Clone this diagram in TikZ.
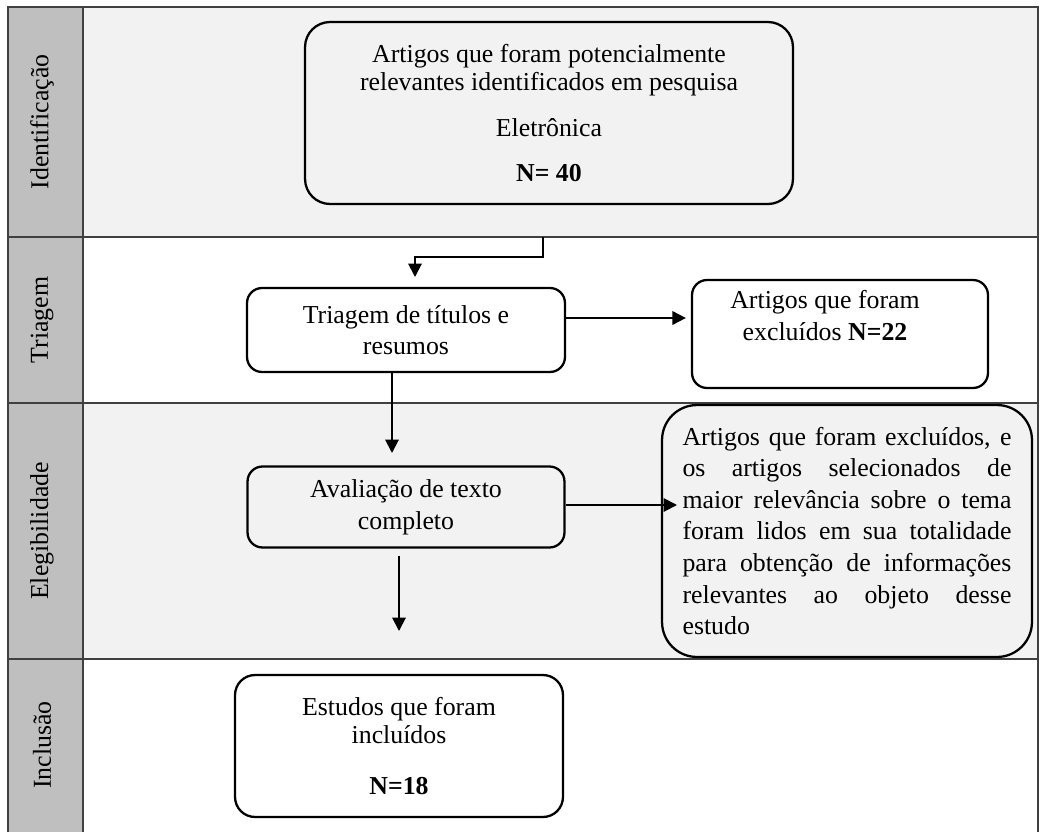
\documentclass[tikz,border=0pt]{standalone}
\usepackage{fontspec}
\setmainfont{Liberation Serif}
\usetikzlibrary{arrows.meta, positioning}

\newcommand{\justa}[1]{\leavevmode\hbox to 6.58cm{\spaceskip=0.25em plus 1fil\relax #1}}

\tikzset{
  caixa/.style={draw, line width=1.3pt, align=center, inner sep=0pt},
  seta/.style={line width=1.1pt, -{Triangle[length=0.27cm, width=0.27cm]}},
  grade/.style={draw=black!75, line width=1pt},
  fase/.style={rotate=90},
}

\begin{document}
\begin{tikzpicture}[x=0.02cm, y=-0.02cm, font=\fontsize{14.7}{18}\selectfont]
        \useasboundingbox (0,0) rectangle (1041,832);
        % faixas da tabela
        \fill[black!5]  (8,7)   rectangle (1038,237);
        \fill[black!5]  (8,403) rectangle (1038,659);
        \fill[gray!50]  (8,7)   rectangle (83,832);
        \draw[grade] (8,832) -- (8,7) -- (1038,7) -- (1038,832);
        \draw[grade] (83,7) -- (83,832);
        \draw[grade] (8,237) -- (1038,237);
        \draw[grade] (8,403) -- (1038,403);
        \draw[grade] (8,659) -- (1038,659);

        \node[fase] (f1) at (42,122) {Identificação};
        \node[fase] (f2) at (42,320) {Triagem};
        \node[fase] (f3) at (42,531) {Elegibilidade};
        \node[fase] (f4) at (42,745) {Inclusão};

        \node[caixa, rounded corners=0.5cm, minimum width=9.76cm, minimum height=3.64cm]  (id)  at (549,113)
            {Artigos que foram potencialmente\\[-2pt] relevantes identificados em pesquisa\\[8.6pt] Eletrônica\\[7.5pt] \textbf{N= 40}};
        \node[caixa, rounded corners=0.3cm, minimum width=6.36cm, minimum height=1.68cm]  (tri) at (406,330)
            {Triagem de títulos e\\ resumos};
        \node[caixa, rounded corners=0.3cm, minimum width=5.92cm, minimum height=2.16cm]  (exc) at (840,334)
            {\begin{tabular}{@{}c@{}}Artigos que foram\\ excluídos \textbf{N=22}\\ \mbox{}\end{tabular}\hspace*{0.6cm}};
        \node[caixa, rounded corners=0.3cm, minimum width=6.34cm, minimum height=1.62cm]  (ava) at (406,507)
            {Avaliação de texto\\ completo};
        \node[caixa, rounded corners=0.7cm, minimum width=7.4cm, minimum height=5.04cm, text width=6.58cm, align=left] (sel) at (847,531)
            {\justa{Artigos que foram excluídos, e}\\ \justa{os artigos selecionados de}\\ \justa{maior relevância sobre o tema}\\ \justa{foram lidos em sua totalidade}\\ \justa{para obtenção de informações}\\ \justa{relevantes ao objeto desse}\\ estudo};
        \node[caixa, rounded corners=0.4cm, minimum width=6.56cm, minimum height=2.84cm]  (inc) at (399,746)
            {Estudos que foram\\[-2pt] incluídos\\[11pt] \textbf{N=18}};

        \coordinate (c1) at (543,237);
        \coordinate (t1) at (415,277);
        \coordinate (t3) at (392,453);
        \coordinate (t4) at (677,505);
        \coordinate (t5) at (399,631);

        \draw[seta] (c1) -- ++(0,20) -| (t1);
        \draw[seta, shorten >=0.1cm] (tri.east |- 0,318) -- (exc.west |- 0,318);
        \draw[seta] (tri.south -| t3) -- (t3);
        \draw[seta] (ava.east |- t4) -- (t4);
        \draw[seta, shorten <=0.14cm] (ava.south -| t5) -- (t5);
\end{tikzpicture}
\end{document}
